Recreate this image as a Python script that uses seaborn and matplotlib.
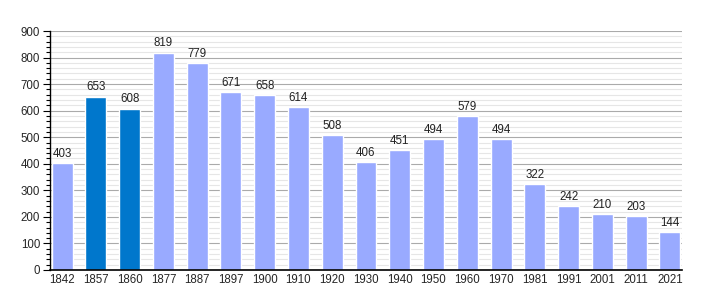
import matplotlib
matplotlib.use("Agg")
import matplotlib.pyplot as plt
import seaborn as sns
import pandas as pd
from matplotlib.ticker import MultipleLocator

years = ["1842", "1857", "1860", "1877", "1887", "1897", "1900", "1910", "1920", "1930",
         "1940", "1950", "1960", "1970", "1981", "1991", "2001", "2011", "2021"]
population = [403, 653, 608, 819, 779, 671, 658, 614, 508, 406,
              451, 494, 579, 494, 322, 242, 210, 203, 144]
highlight = ["1857", "1860"]

df = pd.DataFrame({"year": years, "pop": population})
light = "#99aaff"
dark = "#0077cc"
palette = {y: (dark if y in highlight else light) for y in years}

sns.set_style("white")
plt.rcParams["font.family"] = ["Liberation Sans", "DejaVu Sans"]

fig = plt.figure(figsize=(7.1, 3.0), dpi=100)
ax = fig.add_axes([50/710, 30/300, 632/710, 239/300])

ax.set_ylim(0, 900)
ax.yaxis.set_major_locator(MultipleLocator(100))
ax.yaxis.set_minor_locator(MultipleLocator(20))
ax.grid(which="minor", axis="y", color="#e6e6e6", linewidth=0.8)
ax.grid(which="major", axis="y", color="#aaaaaa", linewidth=0.8)
ax.set_axisbelow(True)

sns.barplot(data=df, x="year", y="pop", hue="year", palette=palette,
            legend=False, width=0.62, ax=ax, saturation=1)
ax.set_xlim(-0.36, 18.36)

for i, v in enumerate(population):
    ax.text(i, v + 12, str(v), ha="center", va="bottom", fontsize=8.3, color="#222222")

for s in ["top", "right"]:
    ax.spines[s].set_visible(False)
ax.spines["left"].set_color("black")
ax.spines["bottom"].set_color("black")
ax.spines["left"].set_linewidth(1)
ax.spines["bottom"].set_linewidth(1.2)
ax.tick_params(axis="y", which="major", length=5, width=0.8, labelsize=8.3, left=True, color="black", pad=2)
ax.tick_params(axis="y", which="minor", length=3, width=0.8, left=True, color="black")
ax.tick_params(axis="x", length=0, labelsize=8.3, pad=3)
ax.set_xlabel("")
ax.set_ylabel("")

fig.savefig("out.png", dpi=100)
